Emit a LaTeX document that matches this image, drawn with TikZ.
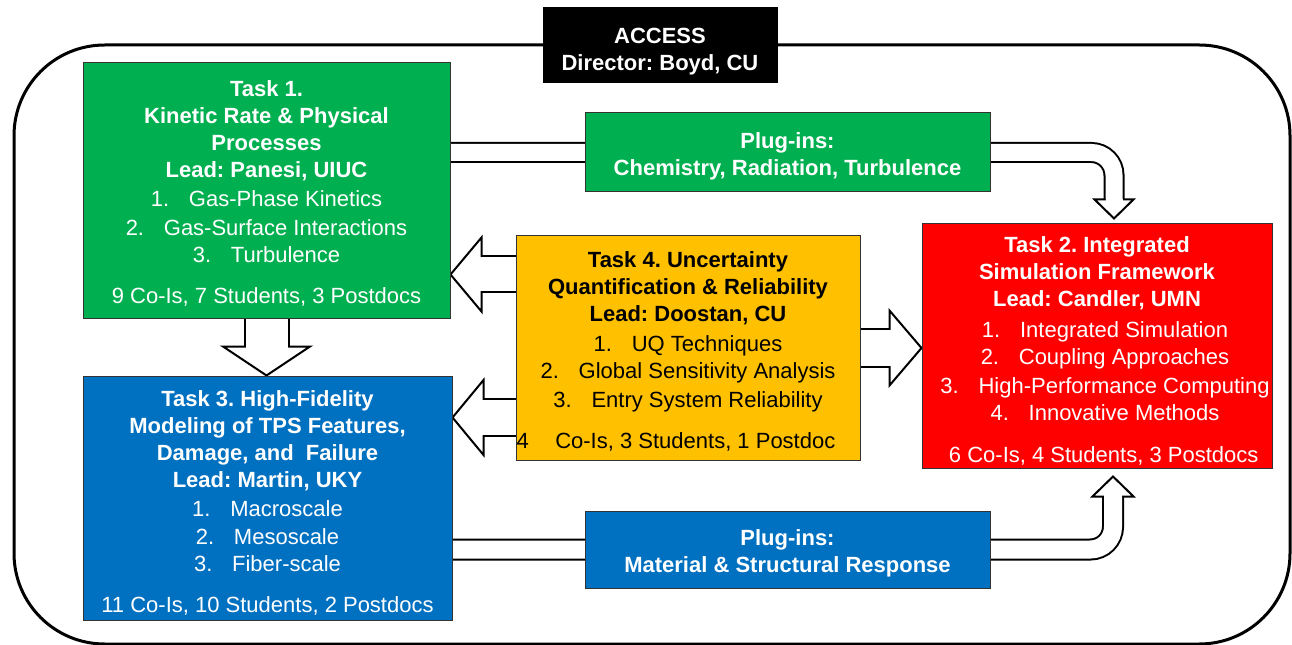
\documentclass[tikz,border=0pt]{standalone}
\usepackage{fontspec}
\setmainfont{Liberation Sans}
\usetikzlibrary{calc}
\definecolor{taskgreen}{RGB}{0, 176, 80}
\definecolor{taskyellow}{RGB}{255, 192, 0}
\definecolor{taskred}{RGB}{255, 0, 0}
\definecolor{taskblue}{RGB}{0, 112, 192}
\pgfdeclarelayer{background}
\pgfsetlayers{background,main}
\frenchspacing

\newcommand{\itm}[2]{#1\hspace{0.9em}#2}
\newcommand{\tstrut}[1][17pt]{\rule{0pt}{#1}}
% #1 path up to the head, #2 head base, #3 tip, #4 inner width, #5 head half width
\newcommand{\hollowarrow}[5]{%
  \draw[shaft, line width=#4+3pt] #1 (#2);
  \filldraw[head] ($(#2)!#5!90:(#3)$) -- (#3) -- ($(#2)!#5!-90:(#3)$) -- cycle;
  \draw[shaft, white, line width=#4] #1 (#2);
  \draw[white, line width=#4] (#2) -- ($(#2)!2pt!(#3)$);
}

\begin{document}
\begin{tikzpicture}[x=0.75pt, y=-0.75pt,
  box/.style={draw=black!80, line width=0.75pt, align=center, inner sep=0pt,
    text=white, font=\fontsize{16.5}{20.25}\selectfont},
  shaft/.style={black, rounded corners=17pt},
  head/.style={fill=white, draw=black, line width=1.5pt, line join=miter}]
\useasboundingbox (0,0) rectangle (1292,645);
% Frame
\begin{pgfonlayer}{background}
\draw[line width=2.25pt, rounded corners=68pt] (14,45) rectangle (1290,644);
\end{pgfonlayer}
% Boxes
\node[box, fill=black, draw=black, minimum width=175.5pt, minimum height=56.25pt] (access) at (660,45.5)
  {\tstrut[21pt]\textbf{ACCESS}\\ \textbf{Director: Boyd, CU}};
\node[box, fill=taskgreen, minimum width=275.25pt, minimum height=191.25pt] (task1) at (266.5,190.5)
  {\tstrut\textbf{Task 1.}\\ \textbf{Kinetic Rate \& Physical}\\ \textbf{Processes}\\ \textbf{Lead: Panesi, UIUC}\\[1pt]
   \itm{1.}{Gas-Phase Kinetics}\\[1.5pt] \itm{2.}{Gas-Surface Interactions}\\ \itm{3.}{Turbulence}\\[11pt]
   9 Co-Is, 7 Students, 3 Postdocs};
\node[box, fill=taskgreen, minimum width=303.75pt, minimum height=59.25pt] (plugA) at (787.5,152.5)
  {\tstrut\textbf{Plug-ins:}\\ \textbf{Chemistry, Radiation, Turbulence}};
\node[box, fill=taskyellow, text=black, minimum width=258pt, minimum height=168pt] (task4) at (688,348)
  {\tstrut\textbf{Task 4. Uncertainty}\\ \textbf{Quantification \& Reliability}\\ \textbf{Lead: Doostan, CU}\\[2.25pt]
   \itm{1.}{UQ Techniques}\\ \itm{2.}{Global Sensitivity Analysis}\\[1.5pt] \itm{3.}{Entry System Reliability}\\[11pt]
   4\hspace{1.2em}Co-Is, 3 Students, 1 Postdoc\hspace*{18pt}};
\node[box, fill=taskred, minimum width=262.5pt, minimum height=183pt] (task2) at (1097,346)
  {\tstrut[19pt]\textbf{Task 2. Integrated}\\ \textbf{Simulation Framework}\\ \textbf{Lead: Candler, UMN}\\[3pt]
   \hspace*{12pt}\itm{1.}{Integrated Simulation}\\ \hspace*{12pt}\itm{2.}{Coupling Approaches}\\[1.5pt]
   \hspace*{12pt}\itm{3.}{High-Performance Computing}\\ \hspace*{12pt}\itm{4.}{Innovative Methods}\\[11pt]
   \hspace*{10pt}6 Co-Is, 4 Students, 3 Postdocs};
\node[box, fill=taskblue, minimum width=276.75pt, minimum height=183pt] (task3) at (267.5,498)
  {\tstrut[19pt]\textbf{Task 3. High-Fidelity}\\ \textbf{Modeling of TPS Features,}\\ \textbf{Damage, and\ \ Failure}\\ \textbf{Lead: Martin, UKY}\\[1.5pt]
   \itm{1.}{Macroscale}\\[1pt] \itm{2.}{Mesoscale}\\ \itm{3.}{Fiber-scale}\\[10.5pt]
   11 Co-Is, 10 Students, 2 Postdocs};
\node[box, fill=taskblue, minimum width=303.75pt, minimum height=57.75pt] (plugB) at (787.5,549.5)
  {\tstrut\textbf{Plug-ins:}\\ \textbf{Material \& Structural Response}};
% Arrows
\coordinate (tipA) at ($(task2.north)+(17,-5)$);
\coordinate (baseA) at ($(tipA)+(0,-19)$);
\coordinate (tipB) at ($(task2.south)+(16,8)$);
\coordinate (baseB) at ($(tipB)+(0,20)$);
\coordinate (t41) at ($(task4.north west)+(0,39)$);
\coordinate (h41) at (task1.east |- t41);
\coordinate (b41) at ($(h41)+(31,0)$);
\coordinate (t43) at ($(task4.south west)+(0,-43)$);
\coordinate (h43) at (task3.east |- t43);
\coordinate (b43) at ($(h43)+(31,0)$);
\coordinate (h42) at (task2.west |- task4.east);
\coordinate (b42) at ($(h42)+(-32,0)$);
\coordinate (h13) at (task1.south |- task3.north);
\coordinate (b13) at ($(h13)+(0,-29)$);
\begin{pgfonlayer}{background}
\hollowarrow{(task1.east |- plugA.center) -- (plugA.center -| baseA) --}{baseA}{tipA}{12.75pt}{14.6pt}
\hollowarrow{(task3.east |- plugB.center) -- (plugB.center -| baseB) --}{baseB}{tipB}{13.5pt}{15.4pt}
\hollowarrow{(t41) --}{b41}{h41}{25.5pt}{27.75pt}
\hollowarrow{(t43) --}{b43}{h43}{26.25pt}{28.1pt}
\hollowarrow{(task4.east) --}{b42}{h42}{27pt}{28.1pt}
\hollowarrow{(task1.south) --}{b13}{h13}{31.5pt}{32.6pt}
\end{pgfonlayer}
\end{tikzpicture}
\end{document}
